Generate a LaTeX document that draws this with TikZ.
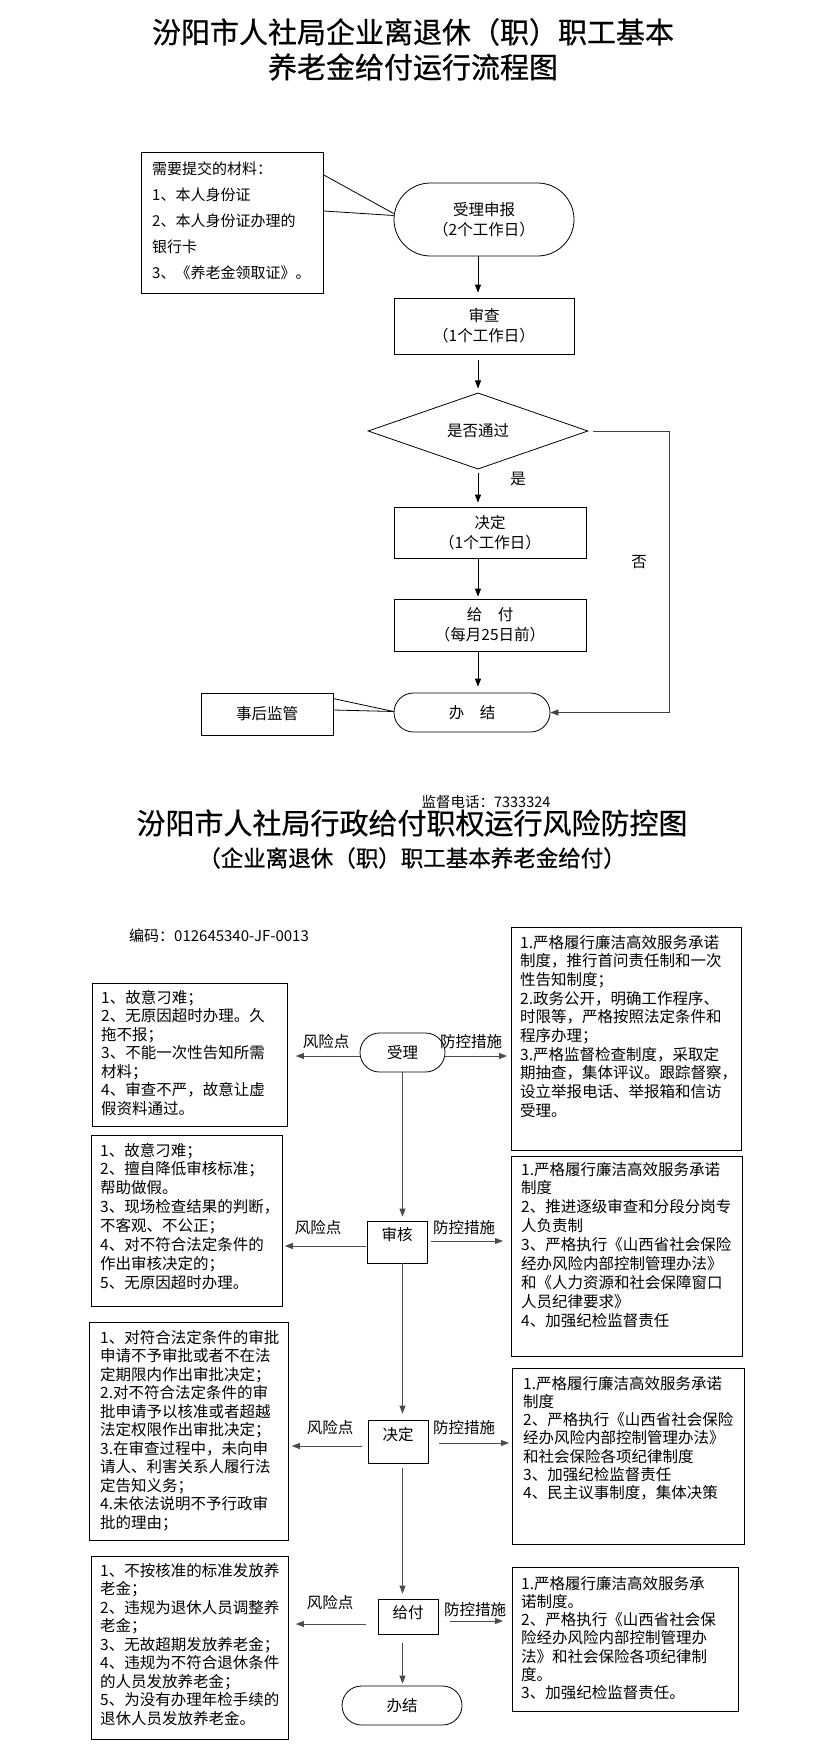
\documentclass[tikz,border=0pt]{standalone}
\usepackage{fontspec}
\setmainfont{Noto Sans CJK SC}
\newfontfamily\titlefont[FakeBold=0.6]{Noto Sans CJK SC}
\usetikzlibrary{arrows.meta,shapes.geometric,shapes.misc}
\newcommand{\boxlines}[1]{\parbox[t]{300pt}{\raggedright #1}}
\begin{document}
\begin{tikzpicture}[x=1pt,y=-1pt,
  box/.style={draw, line width=0.8pt, inner sep=0pt},
  stad/.style={draw, rounded rectangle, line width=0.8pt, inner sep=0pt},
  arr/.style={-{Triangle[length=8pt,width=6pt]}, line width=0.8pt},
  garr/.style={arr, draw=black!70},
  lbl/.style={inner sep=0pt, font=\fontsize{15.5}{18}\selectfont},
  flow/.style={align=center, font=\fontsize{15.5}{20}\selectfont},
  txt/.style={anchor=base west, inner sep=0pt, font=\fontsize{15.5}{#1}\selectfont},
  txt/.default=18.6,
  ttl/.style={inner sep=0pt, font=\titlefont\fontsize{29}{32}\selectfont},
  ]
\fill[white] (0,0) rectangle (823,1755);
\useasboundingbox (0,0) rectangle (823,1755);

% ---------- top flow chart ----------
\node[ttl] (t1) at (413,32) {汾阳市人社局企业离退休（职）职工基本};
\node[ttl] (t2) at (413,67) {养老金给付运行流程图};

\node[box, anchor=north west, minimum width=182pt, minimum height=141pt] (mat) at (141,152) {};
\node[anchor=base west, inner sep=0pt, font=\fontsize{15}{26}\selectfont] (matT) at (152,175)
  {\boxlines{需要提交的材料：\\1、本人身份证\\2、本人身份证办理的\\银行卡\\3、《养老金领取证》。}};

\node[stad, flow, minimum width=180pt, minimum height=73pt] (s1) at (484,219.5) {受理申报\\（2个工作日）};
\node[box, flow, minimum width=180pt, minimum height=56pt] (s2) at (484,326) {审查\\（1个工作日）};
\node[draw, diamond, line width=0.8pt, inner sep=0pt, minimum width=220pt, minimum height=59pt, flow] (s3) at (478,431) {是否通过};
\node[box, flow, minimum width=192pt, minimum height=51pt] (s4) at (490,532.5) {决定\\（1个工作日）};
\node[box, flow, minimum width=192pt, minimum height=52pt] (s5) at (490,625) {给　付\\（每月25日前）};
\node[stad, flow, minimum width=156pt, minimum height=39pt] (s6) at (472,712.5) {办　结};
\node[box, flow, minimum width=132pt, minimum height=42pt] (hj) at (267,714) {事后监管};

\draw[arr, shorten >=5pt] (s1.south -| s3.north) -- (s2.north -| s3.north);
\draw[arr, shorten <=6pt, shorten >=4pt] (s2.south -| s3.north) -- (s3.north);
\draw[arr, shorten <=3pt, shorten >=4pt] (s3.south) -- (s4.north -| s3.south);
\draw[arr, shorten >=2pt] (s4.south -| s3.south) -- (s5.north -| s3.south);
\draw[arr, shorten >=6pt] (s5.south -| s3.south) -- (s6.north -| s3.south);

\coordinate (noR) at (669,431);
\draw[arr, draw=black!75, shorten <=5pt] (s3.east) -- (noR) |- (s6.east);
\node[lbl] (yes) at (518,479) {是};
\node[lbl] (no) at (639,562) {否};

\draw[line width=0.8pt] ([yshift=-23pt]mat.north east) -- ([yshift=6pt]s1.west);
\draw[line width=0.8pt] ([yshift=-59pt]mat.north east) -- ([yshift=4pt]s1.west);
\draw[line width=0.8pt] ([yshift=-6pt]hj.north east) -- ([yshift=1pt]s6.west);
\draw[line width=0.8pt] ([yshift=4pt]hj.east) -- ([yshift=1pt]s6.west);

% ---------- bottom risk chart ----------
\node[inner sep=0pt, font=\fontsize{14.5}{16}\selectfont] (tel) at (486,802) {监督电话：7333324};
\node[ttl] (t3) at (412,823) {汾阳市人社局行政给付职权运行风险防控图};
\node[inner sep=0pt, font=\titlefont\fontsize{22.5}{25}\selectfont] (t4) at (412,858) {（企业离退休（职）职工基本养老金给付）};
\node[anchor=west, inner sep=0pt, font=\fontsize{15}{17}\selectfont] (code) at (129,936) {编码：012645340-JF-0013};

\node[stad, flow, minimum width=85pt, minimum height=39pt] (b1) at (402.5,1052.5) {受理};
\node[box, minimum width=60pt, minimum height=42pt] (b2) at (397,1242) {};
\node[lbl] (b2t) at (397,1235) {审核};
\node[box, minimum width=60pt, minimum height=43pt] (b3) at (398,1441.5) {};
\node[lbl] (b3t) at (398,1435) {决定};
\node[box, minimum width=60pt, minimum height=35pt] (b4) at (408,1616.5) {};
\node[lbl] (b4t) at (408,1613) {给付};
\node[stad, flow, minimum width=120pt, minimum height=39pt] (b5) at (402,1705.5) {办结};

% boxes
\node[box, anchor=north west, minimum width=195pt, minimum height=143pt] (L1) at (92,983) {};
\node[box, anchor=north west, minimum width=230pt, minimum height=223pt] (R1) at (511,927) {};
\node[box, anchor=north west, minimum width=191pt, minimum height=171pt] (L2) at (91,1135) {};
\node[box, anchor=north west, minimum width=231pt, minimum height=200pt] (R2) at (511,1156) {};
\node[box, anchor=north west, minimum width=199pt, minimum height=218pt] (L3) at (89,1322) {};
\node[box, anchor=north west, minimum width=232pt, minimum height=176pt] (R3) at (512,1368) {};
\node[box, anchor=north west, minimum width=197pt, minimum height=183pt] (L4) at (91,1556) {};
\node[box, anchor=north west, minimum width=226pt, minimum height=144pt] (R4) at (512,1567) {};

\node[txt=18.5] (L1T) at (101,1003) {\boxlines{1、故意刁难；\\2、无原因超时办理。久\\拖不报；\\3、不能一次性告知所需\\材料；\\4、审查不严，故意让虚\\假资料通过。}};
\node[txt=18.7] (R1T) at (520,948) {\boxlines{1.严格履行廉洁高效服务承诺\\制度，推行首问责任制和一次\\性告知制度；\\2.政务公开，明确工作程序、\\时限等，严格按照法定条件和\\程序办理；\\3.严格监督检查制度，采取定\\期抽查，集体评议。跟踪督察，\\设立举报电话、举报箱和信访\\受理。}};
\node[txt=18.9] (L2T) at (100,1156) {\boxlines{1、故意刁难；\\2、擅自降低审核标准；\\帮助做假。\\3、现场检查结果的判断，\\不客观、不公正；\\4、对不符合法定条件的\\作出审核决定的；\\5、无原因超时办理。}};
\node[txt=18.9] (R2T) at (521,1175) {\boxlines{1.严格履行廉洁高效服务承诺\\制度\\2、推进逐级审查和分段分岗专\\人负责制\\3、严格执行《山西省社会保险\\经办风险内部控制管理办法》\\和《人力资源和社会保障窗口\\人员纪律要求》\\4、加强纪检监督责任}};
\node[txt=18.5] (L3T) at (100,1343) {\boxlines{1、对符合法定条件的审批\\申请不予审批或者不在法\\定期限内作出审批决定；\\2.对不符合法定条件的审\\批申请予以核准或者超越\\法定权限作出审批决定；\\3.在审查过程中，未向申\\请人、利害关系人履行法\\定告知义务；\\4.未依法说明不予行政审\\批的理由；}};
\node[txt=18.3] (R3T) at (523,1389) {\boxlines{1.严格履行廉洁高效服务承诺\\制度\\2、严格执行《山西省社会保险\\经办风险内部控制管理办法》\\和社会保险各项纪律制度\\3、加强纪检监督责任\\4、民主议事制度，集体决策}};
\node[txt=18.5] (L4T) at (100,1576) {\boxlines{1、不按核准的标准发放养\\老金；\\2、违规为退休人员调整养\\老金；\\3、无故超期发放养老金；\\4、违规为不符合退休条件\\的人员发放养老金；\\5、为没有办理年检手续的\\退休人员发放养老金。}};
\node[txt=18.3] (R4T) at (521,1589) {\boxlines{1.严格履行廉洁高效服务承\\诺制度。\\2、严格执行《山西省社会保\\险经办风险内部控制管理办\\法》和社会保险各项纪律制\\度。\\3、加强纪检监督责任。}};

% vertical connectors
\draw[garr, shorten >=4pt] (b1.south) -- (b2.north -| b1.south);
\draw[garr, shorten >=6pt] (b2.south -| b1.south) -- (b3.north -| b1.south);
\draw[garr, shorten <=5pt, shorten >=5pt] (b3.south -| b1.south) -- (b4.north -| b1.south);
\draw[garr, shorten <=9pt, shorten >=2pt] (b4.south -| b1.south) -- (b5.north -| b1.south);

% horizontal connectors
\coordinate (b1l) at ([yshift=-3.5pt]b1.west);
\coordinate (b1r) at ([yshift=-3.5pt]b1.east);
\draw[garr, shorten >=8pt] (b1l) -- (b1l -| L1.east);
\draw[garr, shorten >=4pt] (b1r) -- (b1r -| R1.west);
\coordinate (b2l) at ([yshift=-4pt]b2.west);
\coordinate (b2r) at ([yshift=1pt]b2.east);
\draw[garr, shorten <=1pt, shorten >=2pt] (b2l) -- (b2l -| L2.east);
\draw[garr, shorten <=4pt, shorten >=8pt] (b2r) -- (b2r -| R2.west);
\coordinate (b3l) at ([yshift=-4.5pt]b3.west);
\coordinate (b3r) at ([yshift=-1.5pt]b3.east);
\draw[garr, shorten <=6pt, shorten >=3pt] (b3l) -- (b3l -| L3.east);
\draw[garr, shorten <=11pt, shorten >=3pt] (b3r) -- (b3r -| R3.west);
\coordinate (b4l) at ([yshift=-7.5pt]b4.west);
\coordinate (b4r) at ([yshift=-4.5pt]b4.east);
\draw[garr, shorten <=12pt, shorten >=7pt] (b4l) -- (b4l -| L4.east);
\draw[garr, shorten <=12pt, shorten >=9pt] (b4r) -- (b4r -| R4.west);

\node[lbl] (r1) at (326,1042) {风险点};
\node[lbl] (p1) at (471,1042) {防控措施};
\node[lbl] (r2) at (318,1228) {风险点};
\node[lbl] (p2) at (464,1228) {防控措施};
\node[lbl] (r3) at (330,1428) {风险点};
\node[lbl] (p3) at (464,1428) {防控措施};
\node[lbl] (r4) at (330,1603) {风险点};
\node[lbl] (p4) at (475,1610) {防控措施};
\end{tikzpicture}
\end{document}
